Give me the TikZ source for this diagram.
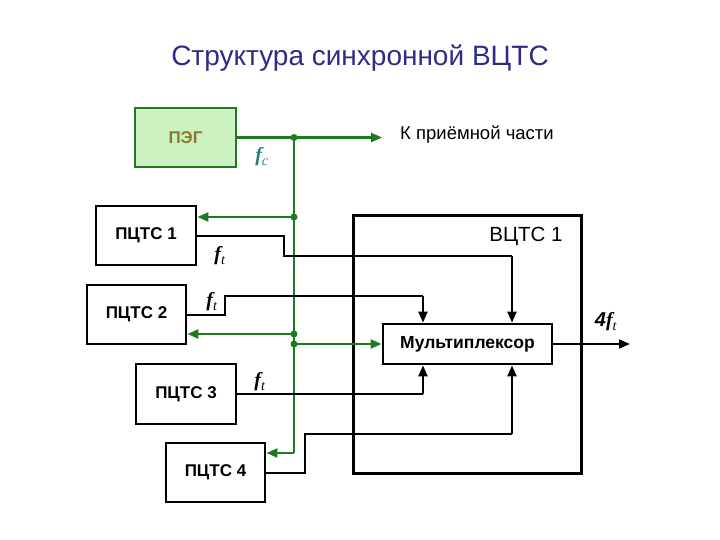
\documentclass[tikz,border=0pt]{standalone}
\usepackage{fontspec}
\setmainfont{Liberation Sans}
\newfontfamily\serifit{Liberation Serif}
\usetikzlibrary{arrows.meta}
\definecolor{grn}{HTML}{1F7A1F}
\definecolor{pegfill}{HTML}{CCF2C2}
\definecolor{pegtext}{HTML}{8A7A30}
\definecolor{teal2}{HTML}{2A7A78}
\definecolor{ttl}{HTML}{2E2C88}
\newcommand{\fsub}[1]{{\serifit\bfseries\itshape f}\textsubscript{\serifit\itshape #1}}
\tikzset{
  blk/.style={draw=black, line width=2.8pt, fill=white, minimum width=100pt, minimum height=59pt, inner sep=0pt,
    font=\fontsize{17}{20}\selectfont\bfseries},
  sig/.style={draw=black, line width=2pt},
  sigarr/.style={sig, -{Triangle[length=11pt,width=9pt]}},
  gline/.style={draw=grn, line width=2.2pt},
  garr/.style={gline, -{Triangle[length=11pt,width=9pt]}},
  gdot/.style={circle, fill=grn, inner sep=0pt, minimum size=7pt},
  flab/.style={font=\fontsize{20}{24}\selectfont, inner sep=0pt}
}
\begin{document}
\begin{tikzpicture}[x=1pt,y=-1pt]
\useasboundingbox (0,0) rectangle (720,540);
\node[font=\fontsize{28}{32}\selectfont, text=ttl] (title) at (360,58) {Структура синхронной ВЦТС};

% outer VCTS box
\node[draw=black, line width=3pt, minimum width=228pt, minimum height=257pt, inner sep=0pt] (vcts) at (467,344.5) {};
\node[font=\fontsize{20.5}{24}\selectfont, inner sep=0pt] (vlab) at (526,236) {ВЦТС 1};

% blocks
\node[blk, draw=grn, fill=pegfill, text=pegtext, minimum width=101pt] (peg) at (185.5,137.5) {ПЭГ};
\node[blk] (p1) at (146,235.5) {ПЦТС 1};
\node[blk, minimum width=99pt] (p2) at (136.5,314.5) {ПЦТС 2};
\node[blk, minimum height=60pt] (p3) at (186,394) {ПЦТС 3};
\node[blk, minimum width=99pt] (p4) at (215.5,472.5) {ПЦТС 4};
\node[blk, minimum width=169pt, minimum height=40pt, font=\fontsize{17.5}{20}\selectfont\bfseries] (mux) at (467.5,344) {Мультиплексор};

% green clock distribution
\coordinate (j0) at (294,137.5);
\coordinate (j1) at (294,217);
\coordinate (j2) at (294,334);
\coordinate (j3) at (294,344);
\coordinate (j4) at (294,453);
\coordinate (out) at (382,137.5);
\draw[garr] (peg.east) -- (out);
\draw[gline] (j0) -- (j4);
\draw[garr] (j4) -- (j4 -| p4.east);
\draw[garr] (j1) -- (j1 -| p1.east);
\draw[garr] (j2) -- (j2 -| p2.east);
\draw[garr] (j3) -- (j3 -| mux.west);
\foreach \j in {j0,j1,j2,j3} \node[gdot] at (\j) {};
\node[font=\fontsize{18.5}{22}\selectfont, anchor=west, inner sep=0pt] (rx) at (400,135) {К приёмной части};
\node[flab, text=teal2] (fc) at (262,157) {\fsub{c}};

% signal lines
\coordinate (c1) at (512,256);
\coordinate (c2) at (423,296);
\coordinate (c3) at (423,394);
\coordinate (c4) at (512,434);
\coordinate (muxout) at (630,344);
\draw[sig] (p1.east) -- (284,235.5) |- (c1);
\draw[sigarr] (c1) -- (c1 |- mux.north);
\draw[sig] (p2.east) -- (225,314.5) |- (c2);
\draw[sigarr] (c2) -- (c2 |- mux.north);
\draw[sig] (p3.east) -- (c3);
\draw[sigarr] (c3) -- (c3 |- mux.south);
\draw[sig] (p4.east) -- (305,472.5) |- (c4);
\draw[sigarr] (c4) -- (c4 |- mux.south);
\draw[sigarr] (mux.east) -- (muxout);

\node[flab] (ft1) at (220,256) {\fsub{t}};
\node[flab] (ft2) at (212,302) {\fsub{t}};
\node[flab] (ft3) at (260,382) {\fsub{t}};
\node[flab] (ft4) at (606,322) {{\bfseries\itshape 4}\fsub{t}};
\end{tikzpicture}
\end{document}
